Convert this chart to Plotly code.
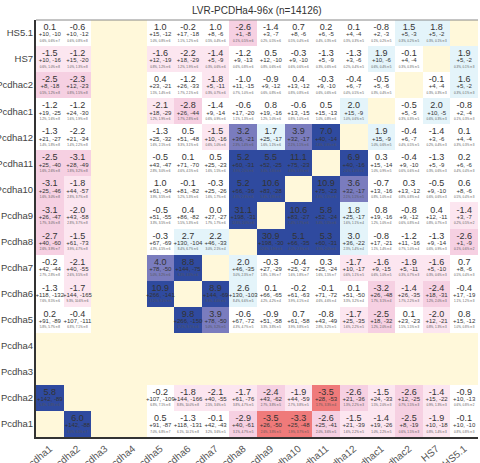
import plotly.graph_objects as go

# Category order (first entry sits at the bottom / left)
genes = ["Pcdha1", "Pcdha2", "Pcdha3", "Pcdha4", "Pcdha5", "Pcdha6", "Pcdha7",
         "Pcdha8", "Pcdha9", "Pcdha10", "Pcdha11", "Pcdha12", "Pcdhac1",
         "Pcdhac2", "HS7", "HS5.1"]
N = None

# Score per pair (rows listed bottom -> top, columns left -> right)
score = [
    [N, 6.0, N, N, 0.5, -1.3, -0.1, -2.9, -3.5, -3.3, -2.6, -1.5, -1.4, -2.5, -1.9, -0.1],
    [5.8, N, N, N, -0.2, -1.8, -2.1, -1.7, -2.4, -1.9, -3.5, -2.6, -1.5, -2.6, -1.4, -0.9],
    [N] * 16,
    [N] * 16,
    [0.2, -0.4, N, N, N, 9.8, 3.9, -0.6, -0.9, 0.7, -0.8, -1.7, -2.5, 0.1, -2.0, 0.8],
    [-1.3, -1.7, N, N, 10.9, N, 8.9, 2.6, 0.1, -0.2, -0.1, 0.1, -3.2, -1.4, -2.4, -0.4],
    [-0.2, -2.1, N, N, 4.0, 8.8, N, 2.0, -0.3, -0.4, 0.3, -1.7, -1.6, -1.9, -1.6, 0.7],
    [-2.7, -1.5, N, N, -0.3, 2.7, 2.2, N, 30.9, 5.1, 5.3, 3.0, -0.8, -1.2, -1.3, -2.6],
    [-3.1, -2.0, N, N, -0.5, 0.4, 0.0, 31.1, N, 10.6, 5.8, 1.8, 0.8, -0.8, 0.4, -1.4],
    [-3.1, -1.8, N, N, 1.0, -0.1, -0.3, 5.2, 10.6, N, 10.9, 3.6, -0.7, 0.3, -0.5, 0.6],
    [-2.5, -3.1, N, N, -0.5, 0.1, 0.5, 5.2, 5.5, 11.1, N, 6.9, 0.3, -0.4, -1.3, 0.2],
    [-1.3, -2.2, N, N, -1.3, 0.5, -1.5, 3.2, 1.7, 3.9, 7.0, N, 1.9, -0.4, -1.4, 0.1],
    [-1.2, -1.2, N, N, -2.1, -2.8, -1.4, -0.6, 0.8, -0.6, 0.5, 2.0, N, -0.5, 2.0, -0.8],
    [-2.5, -2.3, N, N, 0.4, -1.2, -1.8, -1.0, -0.9, 0.4, -0.3, -0.4, -0.5, N, -0.1, 1.6],
    [-1.5, -1.2, N, N, -1.6, -2.2, -1.4, -1.2, 0.5, -0.3, -1.3, -1.3, 1.9, -0.1, N, 1.9],
    [0.1, -0.6, N, N, 1.0, -0.2, 1.0, -2.6, -1.4, 0.7, 0.2, 0.1, -0.8, 1.5, 1.8, N],
]

# Gained / lost counts
gain = [
    [N, 142, N, N, 91, 118, 42, 40, 26, 25, 25, 21, 19, 8, 10, 10],
    [142, N, N, N, 107, 144, 40, 61, 43, 44, 28, 21, 24, 12, 15, 10],
    [N] * 16,
    [N] * 16,
    [91, 107, N, N, N, 266, 78, 67, 51, 61, 43, 25, 18, 23, 12, 15],
    [118, 144, N, N, 266, N, 144, 130, 66, 61, 71, 51, 26, 26, 18, 17],
    [42, 40, N, N, 78, 144, N, 46, 27, 25, 25, 10, 9, 5, 5, 8],
    [40, 61, N, N, 67, 130, 46, N, 198, 66, 60, 36, 17, 11, 9, 1],
    [26, 43, N, N, 51, 86, 27, 198, N, 83, 52, 25, 19, 9, 12, 3],
    [25, 44, N, N, 61, 81, 25, 66, 83, N, 75, 32, 13, 13, 9, 8],
    [25, 28, N, N, 43, 71, 25, 60, 52, 75, N, 40, 15, 9, 5, 6],
    [21, 21, N, N, 25, 51, 10, 36, 25, 32, 40, N, 15, 6, 3, 4],
    [19, 24, N, N, 18, 26, 9, 17, 19, 13, 15, 15, N, 5, 10, 2],
    [8, 12, N, N, 23, 26, 5, 11, 9, 13, 9, 6, 5, N, 4, 5],
    [10, 15, N, N, 12, 18, 5, 9, 12, 9, 5, 3, 10, 4, N, 5],
    [10, 10, N, N, 15, 17, 8, 1, 3, 8, 6, 4, 2, 5, 5, N],
]
loss = [
    [N, 88, N, N, 87, 131, 43, 61, 50, 48, 41, 39, 26, 19, 18, 10],
    [89, N, N, N, 109, 166, 55, 76, 62, 59, 53, 36, 33, 25, 22, 13],
    [N] * 16,
    [N] * 16,
    [89, 111, N, N, N, 150, 50, 72, 58, 58, 49, 35, 32, 23, 21, 12],
    [132, 165, N, N, 141, N, 69, 103, 65, 63, 72, 50, 48, 35, 31, 19],
    [44, 55, N, N, 50, 75, N, 35, 29, 27, 24, 17, 15, 11, 10, 6],
    [60, 73, N, N, 69, 104, 33, N, 30, 35, 31, 22, 21, 16, 14, 9],
    [47, 58, N, N, 55, 82, 27, 31, N, 27, 24, 17, 16, 12, 11, 7],
    [46, 57, N, N, 54, 82, 26, 36, 28, N, 23, 17, 16, 12, 10, 6],
    [40, 49, N, N, 47, 70, 23, 31, 25, 23, N, 16, 14, 10, 9, 6],
    [27, 34, N, N, 32, 48, 16, 21, 17, 17, 14, N, 9, 7, 6, 4],
    [25, 30, N, N, 29, 44, 14, 20, 16, 15, 13, 9, N, 5, 5, 4],
    [18, 23, N, N, 21, 33, 11, 15, 12, 12, 10, 7, 6, N, 4, 2],
    [16, 20, N, N, 19, 29, 9, 13, 10, 10, 9, 6, 6, 4, N, 2],
    [10, 12, N, N, 12, 18, 6, 8, 7, 6, 5, 4, 3, 3, 2, N],
]

# Signed significance class used for the cell colour
sig = [
    [N, 3, N, N, 0, 0, 0, -2, -3, -3, -2, -1, -1, -2, -1, 0],
    [3, N, N, N, 0, -1, -1, -1, -2, -1, -3, -2, -1, -2, -1, 0],
    [N] * 16,
    [N] * 16,
    [0, 0, N, N, N, 3, 2, 0, 0, 0, 0, -1, -2, 0, -1, 0],
    [0, -1, N, N, 3, N, 3, 1, 0, 0, 0, 0, -2, -1, -2, 0],
    [0, -1, N, N, 2, 3, N, 1, 0, 0, 0, -1, -1, -1, -1, 0],
    [-2, -1, N, N, 0, 1, 1, N, 3, 3, 3, 1, 0, 0, 0, -2],
    [-2, -1, N, N, 0, 0, 0, 3, N, 3, 3, 1, 0, 0, 0, -1],
    [-2, -1, N, N, 0, 0, 0, 3, 3, N, 3, 2, 0, 0, 0, 0],
    [-2, -2, N, N, 0, 0, 0, 3, 3, 3, N, 3, 0, 0, 0, 0],
    [0, 0, N, N, 0, 0, -1, 2, 1, 2, 3, N, 1, 0, 0, 0],
    [0, 0, N, N, -1, -2, 0, 0, 0, 0, 0, 1, N, 0, 1, 0],
    [-2, -2, N, N, 0, 0, -1, 0, 0, 0, 0, 0, 0, N, 0, 1],
    [-1, -1, N, N, -1, -1, -1, 0, 0, 0, 0, 0, 1, 0, N, 1],
    [0, 0, N, N, 0, 0, 0, -2, 0, 0, 0, 0, 0, 1, 1, N],
]

# Small footnote line (frequencies and pair count)
note_rows = [
    "- 6.0%,6.0%,n:7 - - 7.0%,6.8%,n:7 6.1%,10.1%,n:8 3.2%,3.6%,n:5 3.1%,4.7%,n:5 2.6%,3.8%,n:5 1.9%,3.7%,n:5 2.0%,3.6%,n:5 1.6%,2.2%,n:5 1.0%,2.2%,n:5 0.6%,1.5%,n:3 0.8%,1.4%,n:3 0.8%,0.8%,n:3",
    "5.8%,5.8%,n:6 - - - 6.8%,7.1%,n:8 8.8%,10.0%,n:8 2.5%,3.6%,n:5 3.8%,4.7%,n:5 2.7%,3.8%,n:5 2.7%,3.8%,n:5 1.7%,3.3%,n:4 1.3%,2.2%,n:3 1.5%,2.0%,n:3 0.7%,1.5%,n:3 0.9%,1.3%,n:3 0.6%,0.8%,n:2",
    "- - - - - - - - - - - - - - - -",
    "- - - - - - - - - - - - - - - -",
    "5.8%,5.7%,n:8 6.8%,7.1%,n:8 - - - 17.2%,9.7%,n:6 5.0%,3.2%,n:5 4.3%,4.7%,n:5 3.3%,3.8%,n:5 3.9%,3.8%,n:5 2.8%,3.2%,n:5 1.6%,2.2%,n:5 1.2%,2.0%,n:4 1.5%,1.5%,n:3 0.8%,1.3%,n:3 1.0%,0.8%,n:3",
    "7.6%,8.5%,n:6 9.3%,10.6%,n:6 - - 17.2%,9.1%,n:6 - 9.3%,4.4%,n:5 8.4%,6.6%,n:5 4.2%,4.2%,n:4 3.9%,4.1%,n:4 4.6%,4.6%,n:4 3.3%,3.2%,n:4 1.7%,3.1%,n:4 1.7%,2.2%,n:3 1.2%,2.0%,n:3 1.1%,1.2%,n:3",
    "2.7%,2.8%,n:8 2.6%,3.5%,n:8 - - 5.0%,3.2%,n:6 9.3%,4.8%,n:6 - 3.0%,2.3%,n:7 1.8%,1.9%,n:7 1.6%,1.8%,n:7 1.6%,1.5%,n:7 0.6%,1.1%,n:5 0.6%,1.0%,n:5 0.3%,0.7%,n:3 0.3%,0.6%,n:3 0.5%,0.4%,n:3",
    "2.6%,3.9%,n:7 3.9%,4.7%,n:8 - - 4.3%,4.5%,n:6 8.4%,6.7%,n:6 3.0%,2.1%,n:4 - 12.8%,1.9%,n:6 4.2%,2.3%,n:6 3.9%,2.0%,n:6 2.3%,1.4%,n:4 1.1%,1.4%,n:4 0.7%,1.0%,n:4 0.6%,0.9%,n:3 0.1%,0.6%,n:2",
    "1.7%,3.0%,n:8 2.8%,3.7%,n:8 - - 3.3%,3.5%,n:6 5.5%,5.3%,n:6 1.7%,1.7%,n:6 12.8%,2.0%,n:6 - 5.4%,1.7%,n:6 3.4%,1.5%,n:6 1.6%,1.1%,n:4 1.2%,1.0%,n:4 0.6%,0.8%,n:4 0.8%,0.7%,n:3 0.2%,0.5%,n:2",
    "1.6%,3.0%,n:8 2.8%,3.7%,n:8 - - 3.9%,3.5%,n:6 5.2%,5.3%,n:6 1.6%,1.7%,n:6 4.3%,2.3%,n:6 5.4%,1.8%,n:6 - 4.8%,1.5%,n:6 2.1%,1.1%,n:5 0.8%,1.0%,n:4 0.8%,0.8%,n:4 0.6%,0.6%,n:3 0.5%,0.4%,n:3",
    "1.6%,2.6%,n:8 1.8%,3.2%,n:8 - - 2.8%,3.0%,n:6 4.6%,4.5%,n:6 1.6%,1.5%,n:6 3.9%,2.0%,n:6 3.4%,1.6%,n:6 4.8%,1.5%,n:6 - 2.6%,1.0%,n:5 1.0%,0.9%,n:5 0.6%,0.6%,n:4 0.3%,0.6%,n:3 0.4%,0.4%,n:3",
    "1.4%,1.8%,n:8 1.4%,2.2%,n:8 - - 1.6%,2.1%,n:6 3.3%,3.1%,n:6 0.6%,1.0%,n:6 2.3%,1.4%,n:6 1.6%,1.1%,n:6 2.1%,1.1%,n:6 2.6%,0.9%,n:6 - 1.0%,0.6%,n:5 0.4%,0.5%,n:5 0.2%,0.4%,n:3 0.3%,0.3%,n:3",
    "1.2%,1.6%,n:8 1.6%,1.9%,n:8 - - 1.2%,1.9%,n:6 1.7%,2.8%,n:6 0.6%,0.9%,n:6 1.1%,1.3%,n:6 1.2%,1.0%,n:6 0.8%,1.0%,n:6 1.0%,0.8%,n:6 1.0%,0.6%,n:5 - 0.3%,0.3%,n:5 0.6%,0.3%,n:3 0.1%,0.3%,n:3",
    "0.5%,1.2%,n:8 0.8%,1.5%,n:8 - - 1.5%,1.4%,n:6 1.7%,2.1%,n:6 0.3%,0.7%,n:6 0.7%,1.0%,n:6 0.6%,0.8%,n:6 0.8%,0.8%,n:6 0.6%,0.6%,n:6 0.4%,0.5%,n:5 0.3%,0.4%,n:5 - 0.3%,0.3%,n:3 0.3%,0.1%,n:3",
    "0.6%,1.0%,n:8 1.0%,1.3%,n:8 - - 0.8%,1.2%,n:6 1.2%,1.9%,n:6 0.3%,0.6%,n:6 0.6%,0.8%,n:6 0.8%,0.6%,n:6 0.6%,0.6%,n:6 0.3%,0.6%,n:6 0.2%,0.4%,n:5 0.6%,0.4%,n:5 0.3%,0.3%,n:5 - 0.3%,0.1%,n:3",
    "0.6%,0.6%,n:7 0.6%,0.8%,n:8 - - 1.0%,0.8%,n:6 1.1%,1.2%,n:6 0.5%,0.4%,n:6 0.1%,0.5%,n:6 0.2%,0.5%,n:6 0.5%,0.4%,n:6 0.4%,0.3%,n:6 0.3%,0.3%,n:5 0.1%,0.2%,n:5 0.3%,0.2%,n:5 0.3%,0.1%,n:3 -",
]
notes = [r.split(" ") for r in note_rows]

# Colour for each significance class (-3 .. 3)
class_colors = ["#ef7a7a", "#f6d0e2", "#fce6f0", "#ffffff", "#e4f4fa", "#7a7cbe", "#2f4a9f"]
zmin, zmax = -3.5, 3.5
colorscale = []
n_cls = len(class_colors)
for i, c in enumerate(class_colors):
    colorscale.append([i / n_cls, c])
    colorscale.append([(i + 1) / n_cls, c])

fig = go.Figure()
fig.add_trace(go.Heatmap(
    x=genes, y=genes, z=sig, zmin=zmin, zmax=zmax,
    colorscale=colorscale, showscale=False, hoverinfo="skip",
))

# Three text lines per cell: score, counts, footnote
vx, vy, vt = [], [], []
cx, cy, ct = [], [], []
nx, ny, nt = [], [], []
for r, gy in enumerate(genes):
    for c, gx in enumerate(genes):
        v = score[r][c]
        if v is None:
            continue
        vx.append(c); vy.append(r + 0.2); vt.append(f"{v:.1f}")
        cx.append(c); cy.append(r - 0.07); ct.append(f"+{gain[r][c]}, -{loss[r][c]}")
        nx.append(c); ny.append(r - 0.3); nt.append(notes[r][c].replace(",", ", ").replace(", n:", " n:"))

font_family = "Liberation Sans, Arial, sans-serif"
fig.add_trace(go.Scatter(x=vx, y=vy, text=vt, mode="text", hoverinfo="skip",
                         textfont=dict(size=9, color="#333333", family=font_family), xaxis="x2", yaxis="y2"))
fig.add_trace(go.Scatter(x=cx, y=cy, text=ct, mode="text", hoverinfo="skip",
                         textfont=dict(size=6, color="#333333", family=font_family), xaxis="x2", yaxis="y2"))
fig.add_trace(go.Scatter(x=nx, y=ny, text=nt, mode="text", hoverinfo="skip",
                         textfont=dict(size=3, color="#555555", family=font_family), xaxis="x2", yaxis="y2"))

fig.update_layout(
    width=480, height=463,
    margin=dict(l=36, r=2, t=20, b=26),
    paper_bgcolor="white",
    plot_bgcolor="#fff8da",
    showlegend=False,
    font=dict(family=font_family, color="#444444"),
    title=dict(text="LVR-PCDHa4-96x (n=14126)", x=0.535, xanchor="center", y=0.985, yanchor="top",
               font=dict(size=10, color="#333333")),
    xaxis=dict(type="category", tickangle=-40, tickfont=dict(size=10, color="#555555"),
               showline=True, linecolor="#333333", linewidth=2, mirror=False, automargin=False,
               showgrid=False, zeroline=False, ticks="", ticklen=0),
    yaxis=dict(type="category", tickfont=dict(size=9.5, color="#444444"),
               showline=True, linecolor="#333333", linewidth=2, mirror=False, automargin=False,
               showgrid=False, zeroline=False, ticks="", ticklabelstandoff=-1),
    xaxis2=dict(overlaying="x", range=[-0.5, len(genes) - 0.5], visible=False),
    yaxis2=dict(overlaying="y", range=[-0.5, len(genes) - 0.5], visible=False),
    shapes=[dict(type="line", xref="paper", yref="paper", x0=0, x1=1, y0=1, y1=1,
                 line=dict(color="#888888", width=1))],
)

fig.write_html("out.html")
